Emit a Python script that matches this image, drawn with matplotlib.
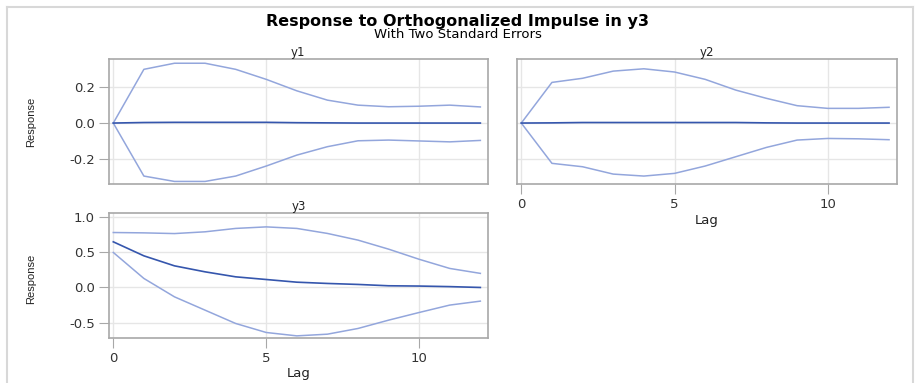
import matplotlib
matplotlib.use('Agg')
import matplotlib.pyplot as plt
from matplotlib.lines import Line2D

lags = list(range(13))

y1_resp = [0.0, 0.003, 0.004, 0.004, 0.004, 0.004, 0.002, 0.001, 0.0, 0.0, 0.0, 0.0, 0.0]
y1_upper = [0.0, 0.30, 0.334, 0.334, 0.30, 0.244, 0.18, 0.128, 0.10, 0.091, 0.094, 0.10, 0.09]
y1_lower = [0.0, -0.296, -0.326, -0.326, -0.296, -0.24, -0.179, -0.132, -0.099, -0.095, -0.10, -0.105, -0.097]

y2_resp = [0.0, 0.001, 0.003, 0.003, 0.003, 0.003, 0.003, 0.003, 0.001, 0.0, 0.0, 0.0, 0.0]
y2_upper = [0.0, 0.227, 0.25, 0.29, 0.303, 0.285, 0.244, 0.184, 0.138, 0.097, 0.082, 0.082, 0.088]
y2_lower = [0.0, -0.225, -0.244, -0.285, -0.296, -0.281, -0.24, -0.188, -0.136, -0.095, -0.086, -0.088, -0.093]

y3_resp = [0.648, 0.449, 0.307, 0.222, 0.151, 0.113, 0.075, 0.057, 0.043, 0.024, 0.02, 0.012, 0.0]
y3_upper = [0.78, 0.775, 0.765, 0.79, 0.838, 0.86, 0.838, 0.767, 0.672, 0.544, 0.40, 0.27, 0.2]
y3_lower = [0.497, 0.128, -0.133, -0.322, -0.511, -0.639, -0.687, -0.663, -0.582, -0.464, -0.355, -0.25, -0.194]

resp_color = '#3556ad'
band_color = '#93a6dc'
grid_color = '#e6e6e6'
spine_color = '#a8a8a8'

# reference text looks horizontally wide, so DejaVu (wider glyphs) is a closer fit
plt.rcParams['font.family'] = ['DejaVu Sans']

W, H = 915, 383
fig = plt.figure(figsize=(W / 100, H / 100), dpi=100)


def box(x0, y0, x1, y1):
    # pixel box (top-left origin) -> figure fraction rect
    return [x0 / W, 1 - y1 / H, (x1 - x0) / W, (y1 - y0) / H]


def panel(rect, name, resp, upper, lower, ylim, yticks, xlabels, ylabels):
    ax = fig.add_axes(rect)
    ax.plot(lags, upper, color=band_color, lw=1.1)
    ax.plot(lags, lower, color=band_color, lw=1.1)
    ax.plot(lags, resp, color=resp_color, lw=1.2)
    ax.set_xlim(-0.15, 12.25)
    ax.set_ylim(*ylim)
    ax.set_xticks([0, 5, 10])
    ax.set_yticks(yticks)
    ax.grid(True, color=grid_color, lw=1)
    ax.set_axisbelow(True)
    for s in ax.spines.values():
        s.set_color(spine_color)
        s.set_linewidth(1.2)
    ax.tick_params(labelcolor='#333333', color=spine_color, length=7, width=0.8,
                   labelsize=9.5, pad=3, direction='out')
    if xlabels:
        ax.set_xticklabels(['0', '5', '10'])
        ax.set_xlabel('Lag', fontsize=9.5, labelpad=2, color='#222222')
    else:
        ax.tick_params(axis='x', labelbottom=False, length=0)
    if ylabels:
        ax.set_yticklabels([f'{v:.1f}' for v in yticks])
    else:
        ax.tick_params(axis='y', labelleft=False, length=0)
    ax.set_title(name, fontsize=8.5, pad=1, color='#222222')
    return ax


panel(box(108.7, 59.3, 488, 184.3), 'y1', y1_resp, y1_upper, y1_lower,
      (-0.342, 0.356), [-0.2, 0.0, 0.2], False, True)
panel(box(516.7, 59.3, 896.7, 184.3), 'y2', y2_resp, y2_upper, y2_lower,
      (-0.342, 0.356), [-0.2, 0.0, 0.2], True, False)
panel(box(108.7, 213, 488, 337.7), 'y3', y3_resp, y3_upper, y3_lower,
      (-0.713, 1.057), [-0.5, 0.0, 0.5, 1.0], True, True)

for yc in (121.7, 279):
    fig.text(31 / W, 1 - yc / H, 'Response', rotation=90, ha='center',
             va='center', fontsize=8, color='#222222',
             family=['Liberation Sans', 'DejaVu Sans'])

fig.text(458 / W, 1 - 21.5 / H, 'Response to Orthogonalized Impulse in y3',
         ha='center', va='center', fontsize=11.5, fontweight='bold')
fig.text(458 / W, 1 - 34.5 / H, 'With Two Standard Errors',
         ha='center', va='center', fontsize=9.5)

# outer light frame
fig.add_artist(Line2D([6.5 / W, 6.5 / W], [0, 1 - 7 / H], transform=fig.transFigure,
                      color='#d8d8d8', lw=1.5))
fig.add_artist(Line2D([6.5 / W, 913 / W], [1 - 7 / H, 1 - 7 / H], transform=fig.transFigure,
                      color='#d8d8d8', lw=1.5))
fig.add_artist(Line2D([912.5 / W, 912.5 / W], [0, 1 - 7 / H], transform=fig.transFigure,
                      color='#d8d8d8', lw=1.5))

fig.savefig('out.png', dpi=100)
